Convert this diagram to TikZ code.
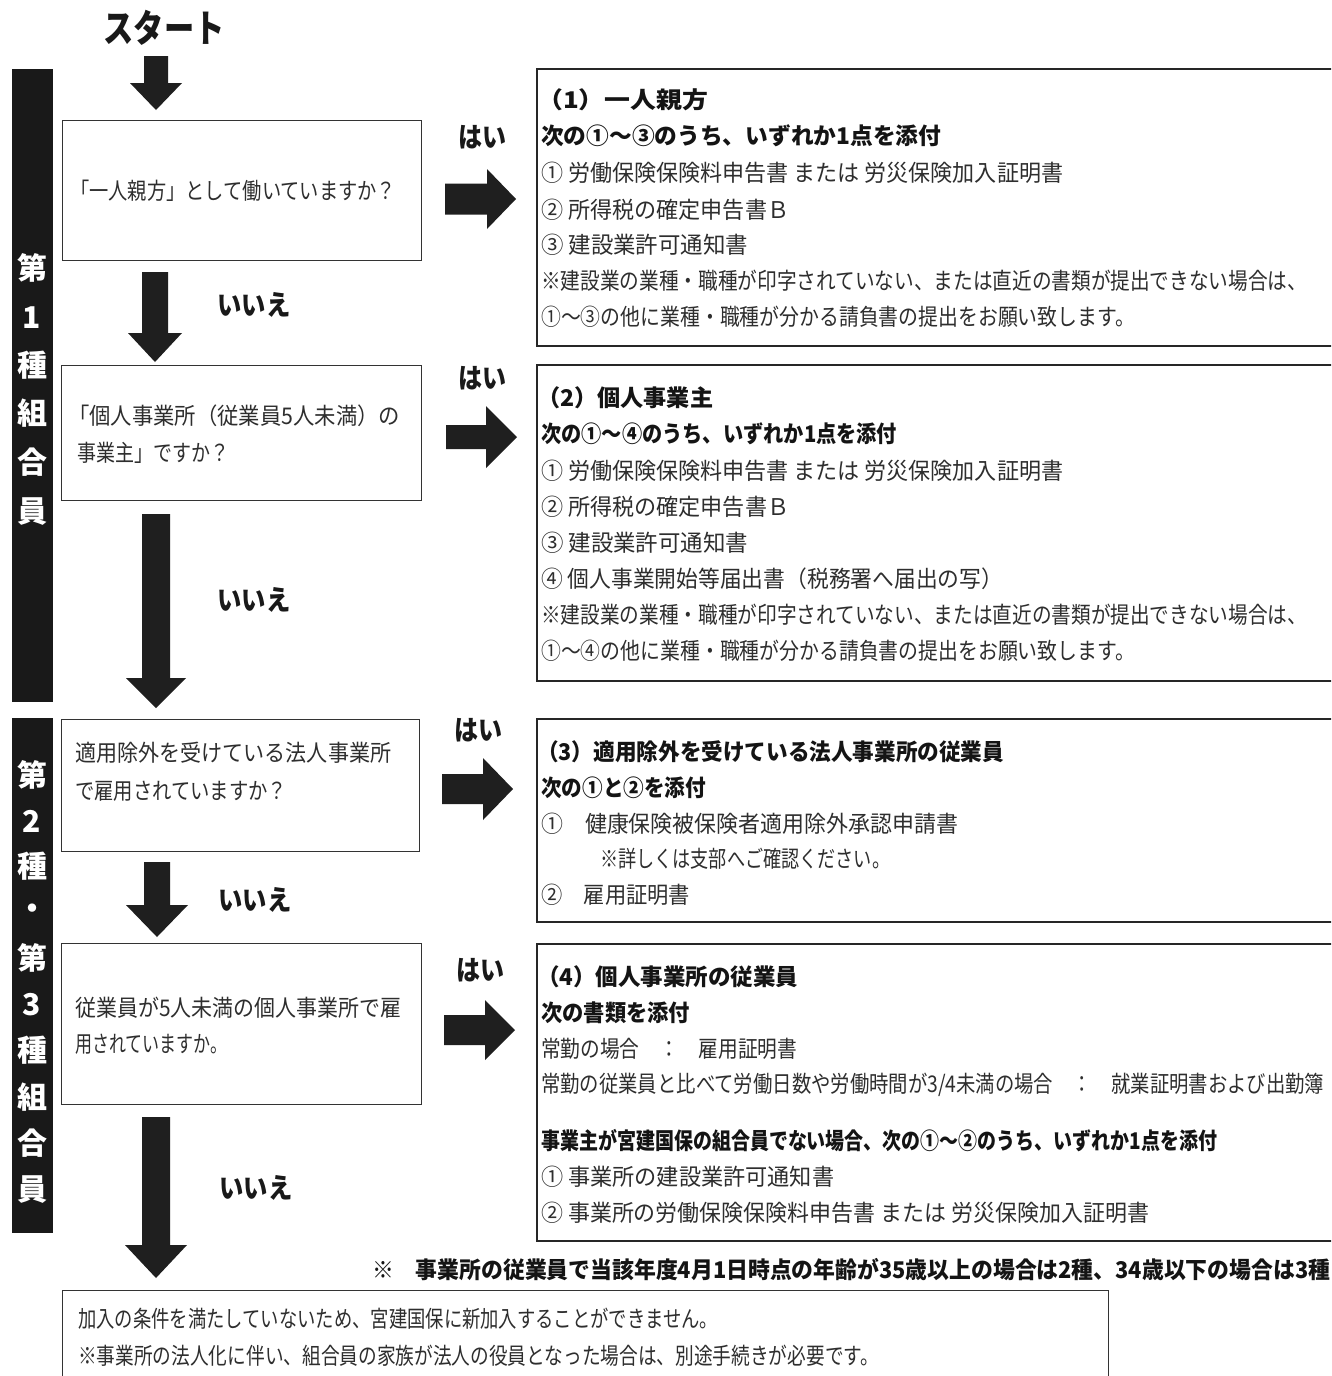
\documentclass[tikz,border=0pt]{standalone}
\usepackage{fontspec}
\setmainfont{Noto Sans CJK JP}
\usepackage{graphicx}
\newcommand\fitw[2]{\resizebox{#1}{\height}{#2}}
\newcommand\darrow[6]{\fill[arr] ({#1-#5},#2) -- ({#1+#5},#2) -- ({#1+#5},#3) -- ({#1+#6},#3) -- (#1,#4) -- ({#1-#6},#3) -- ({#1-#5},#3) -- cycle;}
\newcommand\rarrow[6]{\fill[arr] (#2,{#1-#5}) -- (#2,{#1+#5}) -- (#3,{#1+#5}) -- (#3,{#1+#6}) -- (#4,#1) -- (#3,{#1-#6}) -- (#3,{#1-#5}) -- cycle;}
\tikzset{
  qbox/.style={draw=black!80, line width=1.2pt, anchor=north west, inner sep=0pt},
  rbox/.style={draw=black!85, line width=1.8pt, anchor=north west, inner sep=0pt},
  arr/.style={fill=black!88},
  band/.style={fill=black!90},
  txt/.style={anchor=west, inner sep=0pt, font=\fontsize{23}{23}\selectfont, text=black!82},
  btxt/.style={anchor=west, inner sep=0pt, font=\fontsize{23}{23}\selectfont\bfseries, text=black!92},
  big/.style={inner sep=0pt, font=\fontsize{28}{28}\selectfont\bfseries, text=black!90},
  bandtxt/.style={inner sep=0pt, text=white, font=\fontsize{30}{30}\selectfont\bfseries},
}
\begin{document}
\begin{tikzpicture}[x=1pt,y=-1pt]
\useasboundingbox (0,0) rectangle (1331,1376);
\clip (0,0) rectangle (1331,1376);
\fill[white] (0,0) rectangle (1331,1376);

% start
\node[big, font=\fontsize{38}{38}\selectfont\bfseries] (start) at (164,28) {\fitw{121pt}{スタート}};

% bands
\fill[band] (12,69) rectangle (53,702);
\fill[band] (12,718) rectangle (53,1233);
\foreach \t/\y [count=\i] in {第/268,1/318,種/365,組/413,合/462,員/512}
  \node[bandtxt] (ba\i) at (32,\y) {\t};
\foreach \t/\y [count=\i] in {第/775,2/821,種/866,・/912,第/958,3/1005,種/1050,組/1097,合/1143,員/1190}
  \node[bandtxt] (bb\i) at (32,\y) {\t};

% question boxes
\node[qbox, minimum width=359pt, minimum height=140pt] (q1) at (62,120) {};
\node[qbox, minimum width=360pt, minimum height=135pt] (q2) at (61,365) {};
\node[qbox, minimum width=358pt, minimum height=132pt] (q3) at (61,719) {};
\node[qbox, minimum width=360pt, minimum height=161pt] (q4) at (61,943) {};

\node[txt] (q1a) at (70,191) {\fitw{326pt}{「一人親方」として働いていますか？}};
\node[txt] (q2a) at (68,416) {\fitw{332pt}{「個人事業所（従業員5人未満）の}};
\node[txt] (q2b) at (77,453) {\fitw{152pt}{事業主」ですか？}};
\node[txt] (q3a) at (75,753) {\fitw{316pt}{適用除外を受けている法人事業所}};
\node[txt] (q3b) at (75,791) {\fitw{212pt}{で雇用されていますか？}};
\node[txt] (q4a) at (75,1008) {\fitw{326pt}{従業員が5人未満の個人事業所で雇}};
\node[txt] (q4b) at (75,1044) {\fitw{152pt}{用されていますか。}};

% result boxes
\node[rbox, minimum width=804pt, minimum height=277pt] (r1) at (536,68) {};
\node[rbox, minimum width=804pt, minimum height=316pt] (r2) at (536,364) {};
\node[rbox, minimum width=804pt, minimum height=203pt] (r3) at (536,718) {};
\node[rbox, minimum width=804pt, minimum height=297pt] (r4) at (536,943) {};

% r1
\node[btxt] (r1h) at (537,100) {\fitw{171pt}{（1）一人親方}};
\node[btxt] (r1a) at (541,136) {\fitw{400pt}{次の①〜③のうち、いずれか1点を添付}};
\node[txt] (r1b) at (541,173) {\fitw{522pt}{① 労働保険保険料申告書 または 労災保険加入証明書}};
\node[txt] (r1c) at (541,210) {\fitw{248pt}{② 所得税の確定申告書Ｂ}};
\node[txt] (r1d) at (541,245) {\fitw{207pt}{③ 建設業許可通知書}};
\node[txt] (r1e) at (541,281) {\fitw{766pt}{※建設業の業種・職種が印字されていない、または直近の書類が提出できない場合は、}};
\node[txt] (r1f) at (541,317) {\fitw{594pt}{①〜③の他に業種・職種が分かる請負書の提出をお願い致します。}};

% r2
\node[btxt] (r2h) at (537,398) {\fitw{176pt}{（2）個人事業主}};
\node[btxt] (r2a) at (541,434) {\fitw{356pt}{次の①〜④のうち、いずれか1点を添付}};
\node[txt] (r2b) at (541,471) {\fitw{522pt}{① 労働保険保険料申告書 または 労災保険加入証明書}};
\node[txt] (r2c) at (541,507) {\fitw{248pt}{② 所得税の確定申告書Ｂ}};
\node[txt] (r2d) at (541,543) {\fitw{207pt}{③ 建設業許可通知書}};
\node[txt] (r2e) at (541,579) {\fitw{462pt}{④ 個人事業開始等届出書（税務署へ届出の写）}};
\node[txt] (r2f) at (541,615) {\fitw{766pt}{※建設業の業種・職種が印字されていない、または直近の書類が提出できない場合は、}};
\node[txt] (r2g) at (541,651) {\fitw{594pt}{①〜④の他に業種・職種が分かる請負書の提出をお願い致します。}};

% r3
\node[btxt] (r3h) at (537,752) {\fitw{467pt}{（3）適用除外を受けている法人事業所の従業員}};
\node[btxt] (r3a) at (541,788) {\fitw{165pt}{次の①と②を添付}};
\node[txt] (r3b) at (541,824) {\fitw{417pt}{①　健康保険被保険者適用除外承認申請書}};
\node[txt] (r3c) at (600,859) {\fitw{290pt}{※詳しくは支部へご確認ください。}};
\node[txt] (r3d) at (541,895) {\fitw{149pt}{②　雇用証明書}};

% r4
\node[btxt] (r4h) at (537,977) {\fitw{261pt}{（4）個人事業所の従業員}};
\node[btxt] (r4a) at (541,1013) {\fitw{149pt}{次の書類を添付}};
\node[txt] (r4b) at (541,1049) {\fitw{256pt}{常勤の場合　：　雇用証明書}};
\node[txt] (r4c) at (541,1085) {\fitw{783pt}{常勤の従業員と比べて労働日数や労働時間が3/4未満の場合　：　就業証明書および出勤簿}};
\node[btxt] (r4d) at (541,1141) {\fitw{676pt}{事業主が宮建国保の組合員でない場合、次の①〜②のうち、いずれか1点を添付}};
\node[txt] (r4e) at (541,1177) {\fitw{293pt}{① 事業所の建設業許可通知書}};
\node[txt] (r4f) at (541,1213) {\fitw{608pt}{② 事業所の労働保険保険料申告書 または 労災保険加入証明書}};

% note
\node[btxt] (note) at (372,1270) {\fitw{958pt}{※　事業所の従業員で当該年度4月1日時点の年齢が35歳以上の場合は2種、34歳以下の場合は3種}};

% final box
\node[qbox, minimum width=1046pt, minimum height=100pt] (fin) at (62,1290) {};
\node[txt] (fina) at (78,1319) {\fitw{640pt}{加入の条件を満たしていないため、宮建国保に新加入することができません。}};
\node[txt] (finb) at (78,1356) {\fitw{801pt}{※事業所の法人化に伴い、組合員の家族が法人の役員となった場合は、別途手続きが必要です。}};

% arrows down
\darrow{156}{56}{83}{110}{12}{26}
\darrow{155}{272}{333}{362}{13}{27}
\darrow{156}{514}{678}{708}{14}{30}
\darrow{157}{862}{905}{937}{13}{31}
\darrow{156}{1117}{1245}{1278}{14}{31}
% arrows right
\rarrow{199}{445}{487}{516}{15.5}{30}
\rarrow{437}{446}{486}{517}{12}{31}
\rarrow{789}{442}{483}{513}{15}{31}
\rarrow{1030}{444}{485}{515}{15}{30}

% labels
\node[big] (y1) at (482,137) {\fitw{48pt}{はい}};
\node[big] (y2) at (482,378) {\fitw{48pt}{はい}};
\node[big] (y3) at (478,730) {\fitw{48pt}{はい}};
\node[big] (y4) at (480,970) {\fitw{48pt}{はい}};
\node[big] (n1) at (254,305) {\fitw{73pt}{いいえ}};
\node[big] (n2) at (254,600) {\fitw{73pt}{いいえ}};
\node[big] (n3) at (255,900) {\fitw{73pt}{いいえ}};
\node[big] (n4) at (256,1188) {\fitw{73pt}{いいえ}};
\end{tikzpicture}
\end{document}
